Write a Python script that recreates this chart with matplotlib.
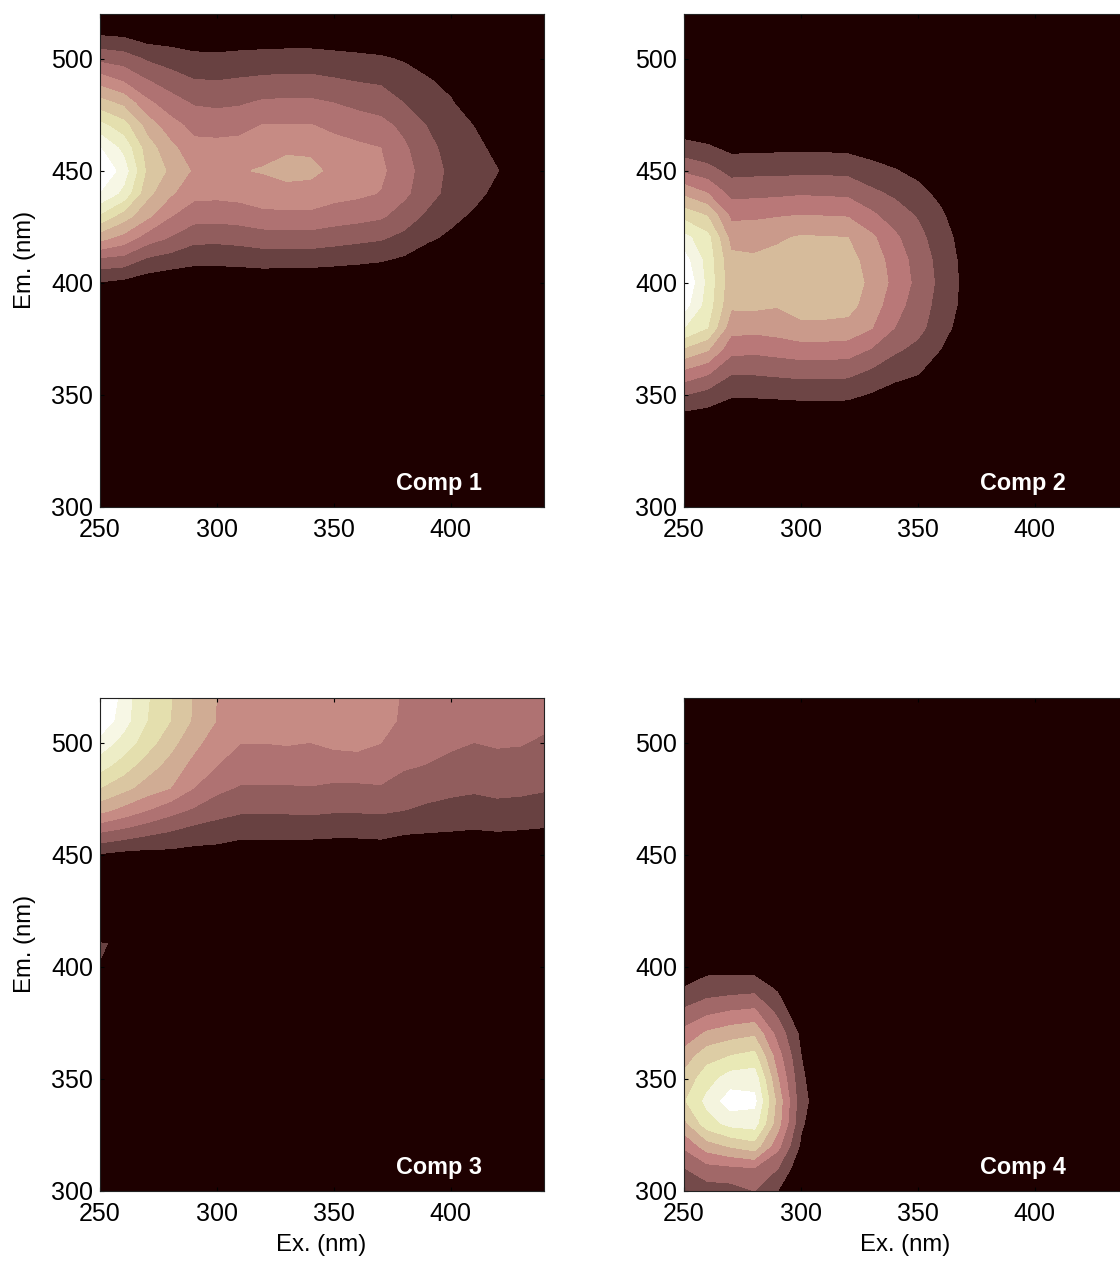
import numpy as np
import matplotlib
matplotlib.use("Agg")
import matplotlib.pyplot as plt

plt.rcParams['font.family'] = ['Liberation Sans', 'DejaVu Sans']

ex = list(range(250, 450, 10))
em = list(range(300, 530, 10))
x_ticks = [250, 300, 350, 400]
y_ticks = [300, 350, 400, 450, 500]
titles = ["Comp 1", "Comp 2", "Comp 3", "Comp 4"]
band_counts = [11, 10, 11, 9]

# Each inner list is one Ex column (from 250 nm upward); entries follow the *_em lists (Em descending)
comp1_em = [520, 510, 500, 490, 480, 470, 460, 450, 440, 430, 420, 410, 400, 390]
comp1 = [
    [.3, 1.02, 2.67, 4.55, 6.4, 8.3, 10.02, 11, 9.9, 7.8, 5.3, 2.65, .9, .2],
    [.2, .9, 2.45, 3.9, 5.75, 7.4, 8.7, 9.5, 8.7, 6.5, 4.6, 2.5, .7, .1],
    [.1, .5, 1.85, 3.05, 4.25, 5.6, 6.5, 6.8, 6.3, 5.25, 3.5, 1.75, .4, 0],
    [0, .5, 1.5, 2.5, 3.45, 4.4, 5.3, 5.8, 5.15, 4.05, 2.9, 1.5, .2, 0],
    [0, .4, 1.25, 2.05, 2.9, 3.7, 4.3, 4.85, 4.3, 3.4, 2.3, 1.2, .3, 0],
    [0, .4, 1.2, 2.0, 2.8, 3.6, 4.3, 4.85, 4.25, 3.35, 2.25, 1.2, .3, 0],
    [0, .4, 1.3, 2.1, 2.9, 3.65, 4.4, 4.95, 4.35, 3.45, 2.35, 1.25, .3, 0],
    [0, .45, 1.35, 2.2, 3.15, 4.05, 4.75, 5.05, 4.6, 3.7, 2.5, 1.4, .2, 0],
    [0, .45, 1.4, 2.25, 3.2, 4.05, 4.85, 5.3, 4.65, 3.75, 2.55, 1.35, .2, 0],
    [0, .45, 1.4, 2.25, 3.2, 4.05, 4.85, 5.2, 4.65, 3.75, 2.55, 1.35, .2, 0],
    [0, .4, 1.3, 2.1, 3.0, 3.75, 4.4, 4.8, 4.35, 3.5, 2.4, 1.25, .2, 0],
    [0, .35, 1.2, 1.95, 2.75, 3.5, 4.2, 4.5, 4.2, 3.35, 2.25, 1.15, .2, 0],
    [0, .3, 1.1, 1.85, 2.55, 3.3, 4.0, 4.2, 3.95, 3.15, 2.1, 1.05, .1, 0],
    [0, .1, .9, 1.45, 2.0, 2.75, 3.15, 3.35, 3.2, 2.55, 1.7, .8, 0, 0],
    [0, 0, .5, 1.1, 1.5, 1.95, 2.35, 2.55, 2.4, 1.8, 1.15, .4, 0, 0],
    [0, 0, .1, .7, 1.1, 1.4, 1.55, 1.75, 1.65, 1.25, .8, .2, 0, 0],
    [0, 0, 0, .2, .4, .98, 1.25, 1.4, 1.25, .85, .3, 0, 0, 0],
    [0, 0, 0, 0, 0, .3, .75, 1.02, .75, .2, 0, 0, 0, 0],
    [0, 0, 0, 0, 0, 0, .1, .4, .1, 0, 0, 0, 0, 0],
]

comp2_em = [470, 460, 450, 440, 430, 420, 410, 400, 390, 380, 370, 360, 350, 340, 330]
comp2 = [
    [.3, 1.4, 2.75, 4.7, 6.6, 8.3, 9.4, 10, 9.4, 8, 5.75, 3.7, 2.0, .6, .15],
    [.2, 1.15, 2.35, 3.95, 5.9, 7.3, 7.55, 7.65, 7.5, 7.0, 5.05, 3.15, 1.6, .5, .1],
    [0, .75, 1.65, 2.65, 3.75, 4.65, 5.25, 5.35, 5.15, 4.4, 3.3, 2.1, 1.1, .3, 0],
    [0, .75, 1.7, 2.7, 3.8, 4.6, 5.15, 5.45, 5.2, 4.3, 3.2, 2.1, 1.1, .3, 0],
    [0, .8, 1.7, 2.75, 3.9, 4.85, 5.3, 5.5, 5.05, 4.45, 3.35, 2.2, 1.15, .3, 0],
    [0, .8, 1.75, 2.85, 4.0, 5.1, 5.4, 5.6, 5.4, 4.75, 3.5, 2.3, 1.2, .35, 0],
    [0, .8, 1.75, 2.8, 3.95, 5.05, 5.4, 5.6, 5.4, 4.75, 3.5, 2.3, 1.2, .35, 0],
    [0, .75, 1.7, 2.75, 3.9, 5.0, 5.35, 5.55, 5.35, 4.65, 3.45, 2.25, 1.2, .3, 0],
    [0, .55, 1.35, 2.2, 3.2, 4.2, 4.6, 4.75, 4.5, 4.05, 2.9, 1.8, .9, .2, 0],
    [0, .4, 1.05, 1.8, 2.5, 3.2, 3.55, 3.7, 3.4, 3.0, 2.15, 1.3, .6, .1, 0],
    [0, .2, .7, 1.3, 1.9, 2.3, 2.6, 2.7, 2.5, 2.3, 1.7, 1.05, .5, 0, 0],
    [0, 0, .3, .7, 1.15, 1.45, 1.6, 1.7, 1.6, 1.4, .95, .5, .1, 0, 0],
    [0, 0, 0, 0, .2, .55, .7, .75, .7, .5, .2, 0, 0, 0, 0],
    [0, 0, 0, 0, 0, 0, 0, .1, 0, 0, 0, 0, 0, 0, 0],
]

comp3_em = [520, 510, 500, 490, 480, 470, 460, 450, 440, 430, 420, 410, 400, 390]
comp3 = [
    [11.5, 10.8, 9.55, 8.4, 7.0, 5.3, 2.95, .85, .4, .1, 0, 1.05, .97, .5],
    [9.45, 9.4, 8.6, 7.5, 6.3, 4.65, 2.6, .65, .3, 0, 0, .88, .8, .2],
    [8.1, 8.0, 7.45, 6.45, 5.55, 4.0, 2.2, .6, .2, 0, 0, 0, 0, 0],
    [7.05, 7.0, 6.3, 5.65, 5.0, 3.35, 1.9, .65, .2, 0, 0, 0, 0, 0],
    [5.9, 5.85, 5.3, 4.65, 4.0, 2.85, 1.55, .6, .1, 0, 0, 0, 0, 0],
    [4.95, 4.95, 4.4, 4.0, 3.25, 2.4, 1.4, .6, .1, 0, 0, 0, 0, 0],
    [4.8, 4.7, 4.0, 3.55, 2.9, 2.15, 1.2, .5, 0, 0, 0, 0, 0, 0],
    [4.85, 4.7, 4.0, 3.5, 2.9, 2.15, 1.2, .5, 0, 0, 0, 0, 0, 0],
    [4.9, 4.75, 4.05, 3.55, 2.9, 2.15, 1.2, .5, 0, 0, 0, 0, 0, 0],
    [4.9, 4.7, 3.98, 3.5, 2.95, 2.2, 1.2, .5, 0, 0, 0, 0, 0, 0],
    [4.9, 4.75, 4.15, 3.6, 2.8, 2.1, 1.15, .5, 0, 0, 0, 0, 0, 0],
    [4.9, 4.8, 4.2, 3.65, 2.8, 2.1, 1.15, .5, 0, 0, 0, 0, 0, 0],
    [4.5, 4.4, 4.0, 3.55, 2.9, 2.15, 1.2, .5, 0, 0, 0, 0, 0, 0],
    [3.85, 3.8, 3.6, 3.15, 2.45, 2.0, 1.05, .4, 0, 0, 0, 0, 0, 0],
    [3.7, 3.65, 3.45, 2.95, 2.4, 1.8, 1.0, .4, 0, 0, 0, 0, 0, 0],
    [3.6, 3.5, 3.2, 2.65, 2.25, 1.65, .95, .4, 0, 0, 0, 0, 0, 0],
    [3.7, 3.5, 2.98, 2.55, 2.15, 1.55, .9, .35, 0, 0, 0, 0, 0, 0],
    [3.7, 3.5, 3.1, 2.65, 2.25, 1.7, .95, .35, 0, 0, 0, 0, 0, 0],
    [3.6, 3.5, 3.05, 2.65, 2.2, 1.65, .9, .35, 0, 0, 0, 0, 0, 0],
    [3.6, 3.2, 2.85, 2.45, 2.1, 1.5, .85, .35, 0, 0, 0, 0, 0, 0],
]

comp4_em = [410, 400, 390, 380, 370, 360, 350, 340, 330, 320, 310, 300]
comp4 = [
    [0, .3, 1.05, 2.15, 3.3, 4.4, 5.3, 5.85, 4.65, 3.15, 1.95, 1.2],
    [0, .65, 1.45, 2.7, 4.15, 5.6, 6.55, 7.25, 6.55, 4.5, 2.6, 1.55],
    [0, .6, 1.55, 3.0, 4.55, 6.0, 7.45, 8.5, 7.3, 5.1, 2.75, 1.6],
    [0, .5, 1.65, 3.15, 4.8, 6.3, 7.55, 8.25, 7.45, 5.55, 2.9, 2.0],
    [0, 0, .85, 1.7, 2.6, 3.4, 4.05, 4.6, 4.4, 3.3, 2.0, 1.0],
    [0, 0, 0, 0, .75, 1.0, 1.2, 1.35, 1.15, .8, .2, 0],
    [0, 0, 0, 0, 0, 0, 0, .2, 0, 0, 0, 0],
]

panels = [(comp1, comp1_em), (comp2, comp2_em), (comp3, comp3_em), (comp4, comp4_em)]


def grid(columns, rows):
    z = np.zeros((len(em), len(ex)))
    for i, col in enumerate(columns):
        for value, e in zip(col, rows):
            z[em.index(e), i] = value
    return z


W, H = 1120, 1261
fig = plt.figure(figsize=(W / 100, H / 100), dpi=100)
boxes = [(100, 14), (684, 14), (100, 698), (684, 698)]
AW, AH = 444, 492.5
X, Y = np.meshgrid(ex, em)
cmap = plt.get_cmap('pink')
DARK = cmap(0.0)

for k, (left, top) in enumerate(boxes):
    ax = fig.add_axes([left / W, 1 - (top + AH) / H, AW / W, AH / H])
    ax.set_facecolor(DARK)
    n = band_counts[k]
    levels = [-1] + list(range(1, n)) + [30]
    colors = [cmap(i / (n - 1)) for i in range(n)]
    cs = ax.contourf(X, Y, grid(*panels[k]), levels=levels, colors=colors)
    # close the hairline seams between neighbouring filled bands
    cs.set_edgecolor('face')
    cs.set_linewidth(0.6)
    ax.set_xlim(250, 440)
    ax.set_ylim(300, 520)
    ax.set_xticks(x_ticks)
    ax.set_yticks(y_ticks)
    ax.tick_params(direction='in', top=True, right=True, length=3, width=0.8,
                   labelsize=18, color='black')
    ax.tick_params(axis='x', pad=8.5)
    ax.tick_params(axis='y', pad=5)
    for s in ax.spines.values():
        s.set_linewidth(0.8)
        s.set_color('#222222')
    ax.text(0.763, 0.047, titles[k], transform=ax.transAxes, color='white',
            fontsize=16.8, fontweight='bold', ha='center', va='center')
    if k % 2 == 0:
        fig.text(25 / W, 1 - (top + AH / 2) / H, "Em. (nm)", rotation=90,
                 fontsize=17.2, ha='center', va='center')
    if k >= 2:
        fig.text((left + 221) / W, 1 - 1245 / H, "Ex. (nm)",
                 fontsize=17.2, ha='center', va='center')

fig.savefig('out.png', dpi=100)
